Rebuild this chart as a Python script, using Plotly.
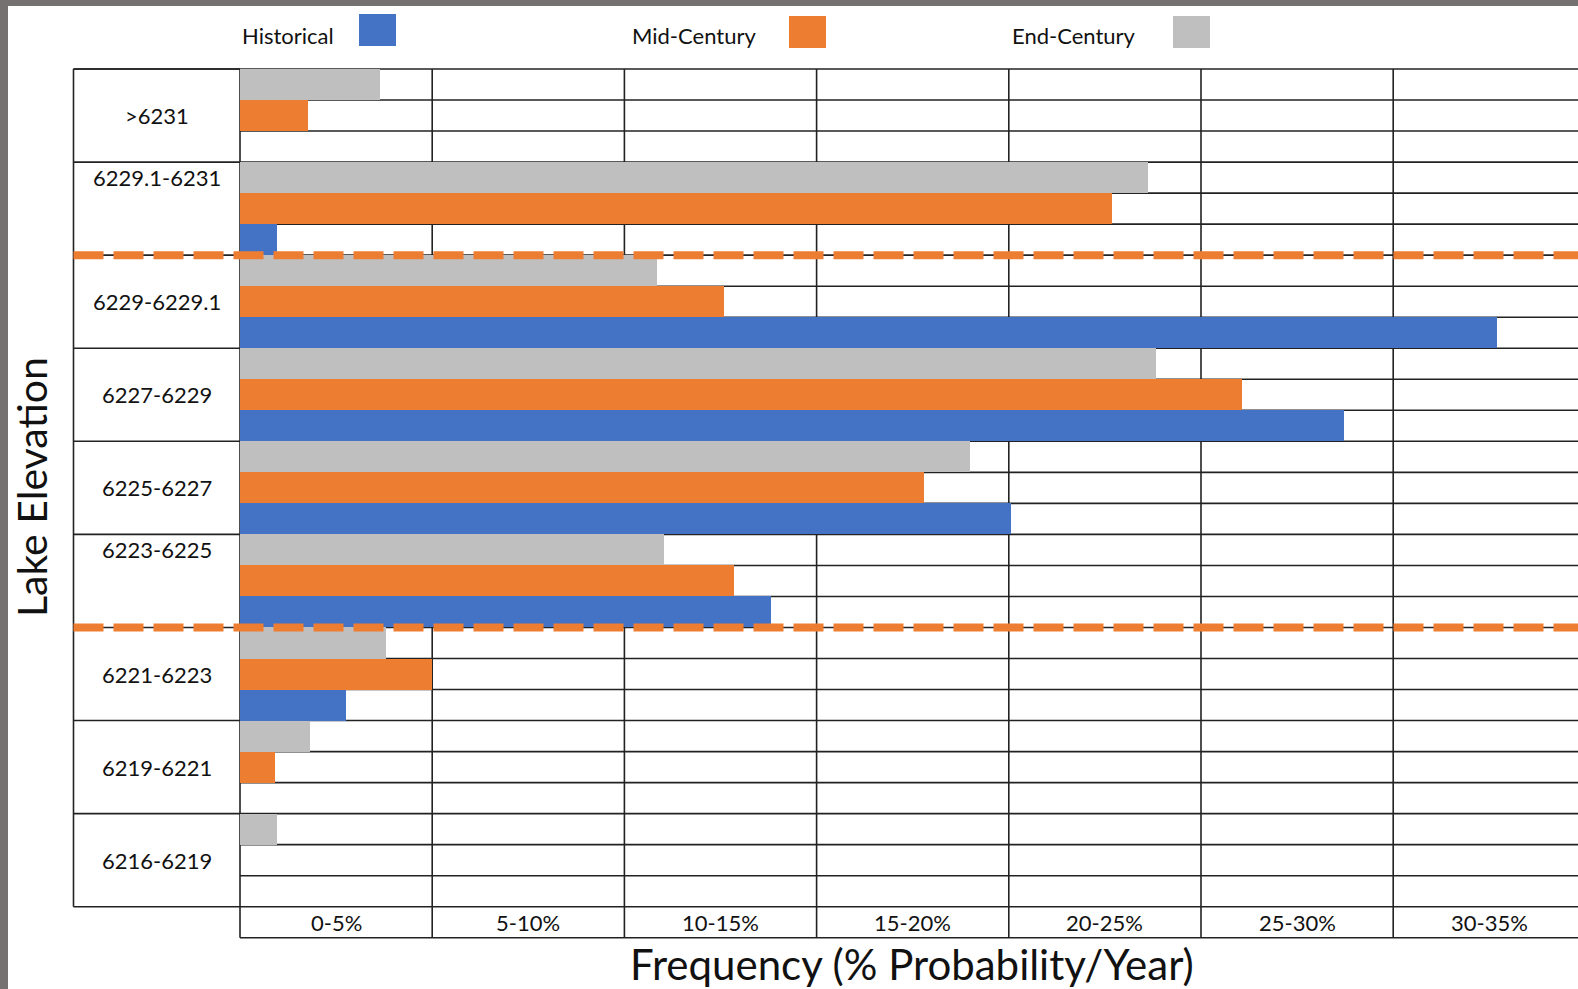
import plotly.graph_objects as go

# ---------------- data ----------------
categories = [">6231", "6229.1-6231", "6229-6229.1", "6227-6229", "6225-6227",
              "6223-6225", "6221-6223", "6219-6221", "6216-6219"]
historical = [0, 0.95, 32.70, 28.72, 20.05, 13.82, 2.75, 0, 0]
mid_century = [1.78, 22.69, 12.59, 26.07, 17.80, 12.85, 5.00, 0.92, 0]
end_century = [3.64, 23.63, 10.86, 23.82, 18.98, 11.02, 3.79, 1.83, 0.95]
freq_bins = ["0-5%", "5-10%", "10-15%", "15-20%", "20-25%", "25-30%", "30-35%"]
bin_width = 5
series_names = ["Historical", "Mid-Century", "End-Century"]
# dashed threshold lines sit between these neighbouring elevation bands
thresholds = [("6229.1-6231", "6229-6229.1"), ("6223-6225", "6221-6223")]
x_title = "Frequency (% Probability/Year)"
y_title = "Lake Elevation"

# ---------------- style ----------------
colors = {"Historical": "#4472C4", "Mid-Century": "#ED7D31", "End-Century": "#BFBFBF"}
FONT = "Lato"
TXT = "#111111"
GRID = "#222222"
W, H = 1578, 989
X0_PX = 240.0            # pixel of 0 %
PCT_PX = 192.2 / 5       # pixels per 1 %
TOP_PX = 69.0            # table top
CAT_PX = 93.08           # height of one elevation band
LEFT_PX = 73.5           # left border of label column

n = len(categories)
cat_axis = categories[::-1]              # bottom -> top
idx = {c: cat_axis.index(c) for c in categories}

xr = [-X0_PX / PCT_PX, (W - X0_PX) / PCT_PX]
ytop = n - 0.5
yr = [ytop - (H - TOP_PX) / CAT_PX, ytop + TOP_PX / CAT_PX]
xleft = (LEFT_PX - X0_PX) / PCT_PX
xmax = bin_width * len(freq_bins) + 3
ybot_label = -0.5 - 1 / 3

fig = go.Figure()
for name, vals in zip(series_names, [historical, mid_century, end_century]):
    fig.add_trace(go.Bar(y=categories, x=vals, orientation="h", name=name,
                         marker=dict(color=colors[name], line=dict(width=0)),
                         hoverinfo="skip"))

shapes = []
def hline(y, x0, x1, layer="below"):
    shapes.append(dict(type="line", xref="x", yref="y", x0=x0, x1=x1, y0=y, y1=y,
                       line=dict(color=GRID, width=1.6), layer=layer))
def vline(x, y0, y1, layer="below"):
    shapes.append(dict(type="line", xref="x", yref="y", x0=x, x1=x, y0=y0, y1=y1,
                       line=dict(color=GRID, width=1.6), layer=layer))

# sub-row lines in data area
for i in range(n):
    for k in range(3):
        hline(i - 0.5 + k / 3, 0, xmax)
hline(ytop, xleft, xmax)
hline(ybot_label, 0, xmax)
# band lines in label column
for b in range(n + 1):
    hline(b - 0.5, xleft, 0)
# verticals
for j in range(len(freq_bins) + 1):
    vline(j * bin_width, ybot_label, ytop)
vline(xleft, -0.5, ytop)

# dashed threshold lines
upper_bands = set()
for up, lo in thresholds:
    y = (idx[up] + idx[lo]) / 2
    upper_bands.add(up)
    shapes.append(dict(type="line", xref="x", yref="y", x0=xleft, x1=xmax, y0=y, y1=y,
                       line=dict(color=colors["Mid-Century"], width=8, dash="30px,10px"),
                       layer="above"))

# grey frame strips
shapes.append(dict(type="rect", xref="paper", yref="paper", x0=0, x1=8 / W, y0=0, y1=1,
                   fillcolor="#767171", line=dict(width=0), layer="above"))
shapes.append(dict(type="rect", xref="paper", yref="paper", x0=0, x1=1, y0=1 - 6 / H, y1=1,
                   fillcolor="#767171", line=dict(width=0), layer="above"))

annotations = []
# category labels
for c in categories:
    y = idx[c] + (1 / 3 if c in upper_bands else 0)
    annotations.append(dict(x=xleft / 2, y=y, xref="x", yref="y", text=c, showarrow=False,
                            xanchor="center", yanchor="middle",
                            font=dict(family=FONT, size=22, color=TXT)))
# bin labels
for j, lab in enumerate(freq_bins):
    annotations.append(dict(x=j * bin_width + bin_width / 2, y=(-0.5 + ybot_label) / 2,
                            xref="x", yref="y", text=lab, showarrow=False,
                            xanchor="center", yanchor="middle",
                            font=dict(family=FONT, size=22, color=TXT)))

def px(x):
    return x / W
def py(y):
    return 1 - y / H

# axis titles
annotations.append(dict(x=px(912), y=py(964), xref="paper", yref="paper", text=x_title,
                        showarrow=False, xanchor="center", yanchor="middle",
                        font=dict(family=FONT, size=42, color=TXT)))
annotations.append(dict(x=px(31), y=py(487), xref="paper", yref="paper", text=y_title,
                        showarrow=False, xanchor="center", yanchor="middle", textangle=-90,
                        font=dict(family=FONT, size=41, color=TXT)))

# legend (text left of a coloured square)
legend_pos = {"Historical": (240, 359, 14), "Mid-Century": (630, 789, 16),
              "End-Century": (1010, 1173, 16)}
for name in series_names:
    tx, sx, sy = legend_pos[name]
    annotations.append(dict(x=px(tx), y=py(35), xref="paper", yref="paper", text=name,
                            showarrow=False, xanchor="left", yanchor="middle",
                            font=dict(family=FONT, size=22, color=TXT)))
    shapes.append(dict(type="rect", xref="paper", yref="paper", x0=px(sx), x1=px(sx + 37),
                       y0=py(sy + 32), y1=py(sy), fillcolor=colors[name],
                       line=dict(width=0), layer="above"))

fig.update_layout(
    width=W, height=H, margin=dict(l=0, r=0, t=0, b=0, pad=0),
    paper_bgcolor="white", plot_bgcolor="white",
    barmode="group", bargap=0, bargroupgap=0, showlegend=False,
    xaxis=dict(range=xr, visible=False, fixedrange=True),
    yaxis=dict(range=yr, type="category", categoryorder="array", categoryarray=cat_axis,
               visible=False, fixedrange=True),
    shapes=shapes, annotations=annotations,
    font=dict(family=FONT, color=TXT),
)

fig.write_html("out.html", config={"displayModeBar": False},
               post_script="document.body.style.margin='0px';document.body.style.overflow='hidden';")
